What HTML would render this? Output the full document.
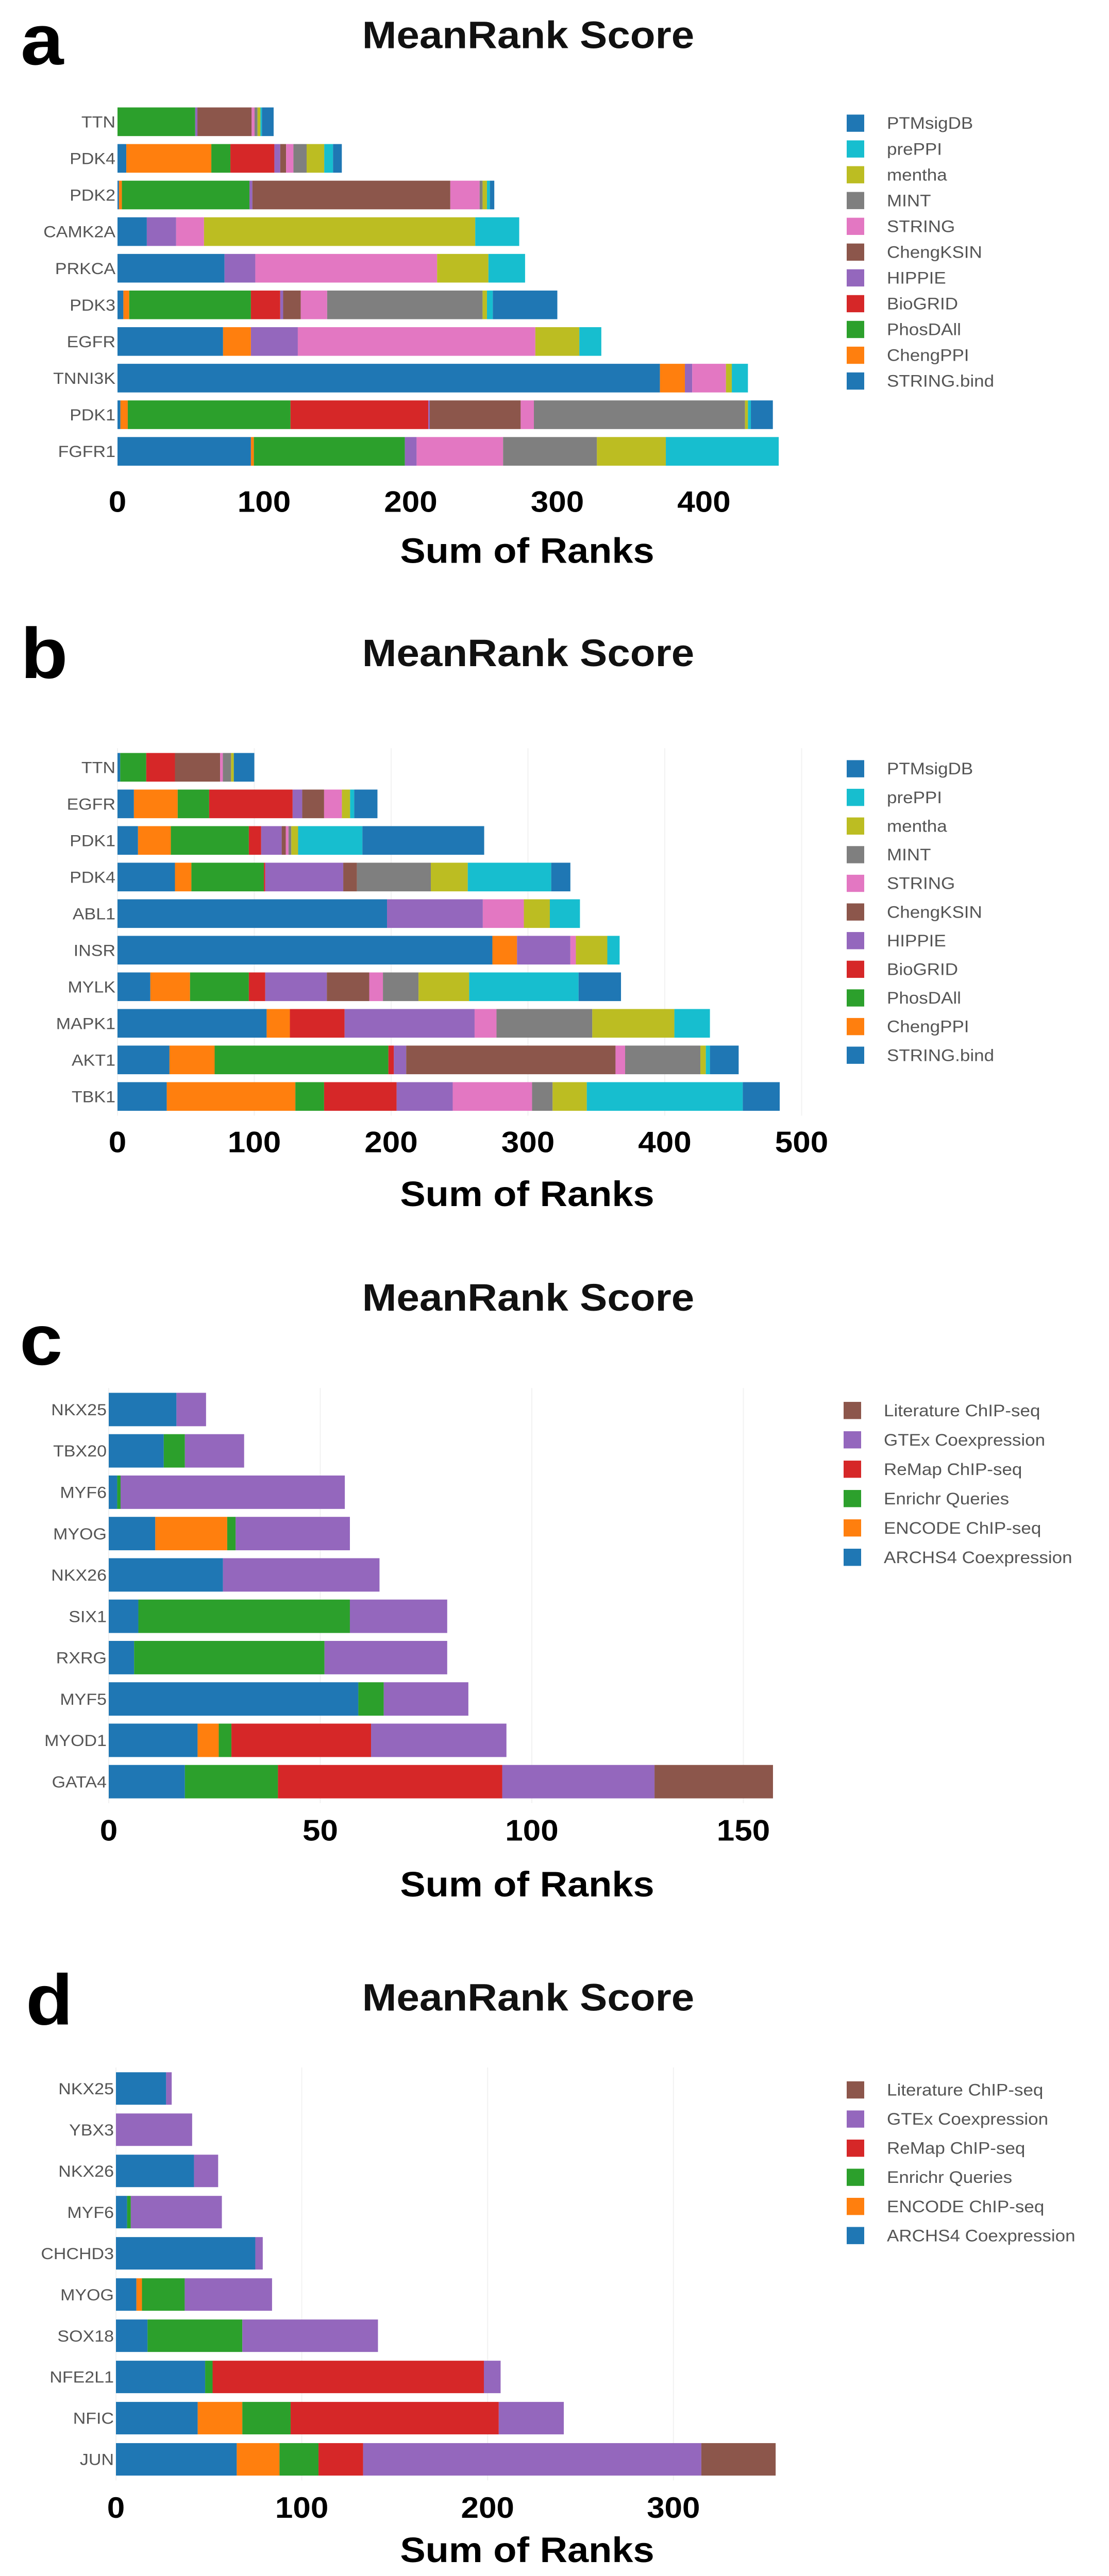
<!DOCTYPE html>
<html><head><meta charset="utf-8"><style>
html,body{margin:0;padding:0;background:#fff;width:100vw;height:100vh;overflow:hidden;}
svg{display:block;font-family:"Liberation Sans",sans-serif;width:100vw;height:100vh;}
</style></head><body>
<svg id="fig" viewBox="0 0 2152 5395" preserveAspectRatio="none" xmlns="http://www.w3.org/2000/svg"></svg>
<script>
// Panel a/b (kinase libraries)
const ppiSeries = ["STRING.bind","ChengPPI","PhosDAll","BioGRID","HIPPIE","ChengKSIN","STRING","MINT","mentha","prePPI","PTMsigDB"];
const ppiColors = ["#1f77b4","#ff7f0e","#2ca02c","#d62728","#9467bd","#8c564b","#e377c2","#7f7f7f","#bcbd22","#17becf","#1f77b4"];
const aCategories = ["TTN","PDK4","PDK2","CAMK2A","PRKCA","PDK3","EGFR","TNNI3K","PDK1","FGFR1"];
const aValues = [
 [0,0,53,0,1.5,37,2,2,2,1,8],
 [6,58,13,30,4,4,5,9,12,6,6],
 [1,2,87,0,2,135,20,2,3,2,3],
 [20,0,0,0,20,0,19,0,185,30,0],
 [73,0,0,0,21,0,124,0,35,25,0],
 [4,4,83,20,2,12,18,106,3,4,44],
 [72,19,0,0,32,0,162,0,30,15,0],
 [370,17,0,0,5,0,23,0,4,11,0],
 [2,5,111,94,1,62,9,144,2,2,15],
 [91,2,103,0,8,0,59,64,47,77,0]
];
const aTicks = [0,100,200,300,400];
const bCategories = ["TTN","EGFR","PDK1","PDK4","ABL1","INSR","MYLK","MAPK1","AKT1","TBK1"];
const bValues = [
 [2,0,19,21,0,33,2,6,2,0,15],
 [12,32,23,61,7,16,13,0,6,3,17],
 [15,24,57,9,15,3,2,2,5,47,89],
 [42,12,53,1,57,10,0,54,27,61,14],
 [197,0,0,0,70,0,30,0,19,22,0],
 [274,18,0,0,39,0,4,0,23,9,0],
 [24,29,43,12,45,31,10,26,37,80,31],
 [109,17,0,40,95,0,16,70,60,26,0],
 [38,33,127,4,9,153,7,55,4,3,21],
 [36,94,21,53,41,0,58,15,25,114,27]
];
const bTicks = [0,100,200,300,400,500];
// Panel c/d (TF libraries)
const tfSeries = ["ARCHS4 Coexpression","ENCODE ChIP-seq","Enrichr Queries","ReMap ChIP-seq","GTEx Coexpression","Literature ChIP-seq"];
const tfColors = ["#1f77b4","#ff7f0e","#2ca02c","#d62728","#9467bd","#8c564b"];
const cCategories = ["NKX25","TBX20","MYF6","MYOG","NKX26","SIX1","RXRG","MYF5","MYOD1","GATA4"];
const cValues = [
 [16,0,0,0,7,0],
 [13,0,5,0,14,0],
 [2,0,0.8,0,53,0],
 [11,17,2,0,27,0],
 [27,0,0,0,37,0],
 [7,0,50,0,23,0],
 [6,0,45,0,29,0],
 [59,0,6,0,20,0],
 [21,5,3,33,32,0],
 [18,0,22,53,36,28]
];
const cTicks = [0,50,100,150];
const dCategories = ["NKX25","YBX3","NKX26","MYF6","CHCHD3","MYOG","SOX18","NFE2L1","NFIC","JUN"];
const dValues = [
 [27,0,0,0,3,0],
 [0,0,0,0,41,0],
 [42,0,0,0,13,0],
 [6,0,2,0,49,0],
 [75,0,0,0,4,0],
 [11,3,23,0,47,0],
 [17,0,51,0,73,0],
 [48,0,4,146,9,0],
 [44,24,26,112,35,0],
 [65,23,21,24,182,40]
];
const dTicks = [0,100,200,300];

const NS="http://www.w3.org/2000/svg";
const svg=document.getElementById('fig');
function mk(tag,attrs,parent){const e=document.createElementNS(NS,tag);for(const k in attrs)e.setAttribute(k,attrs[k]);(parent||svg).appendChild(e);return e;}
function txt(str,attrs,parent){const e=mk('text',attrs,parent);e.textContent=str;return e;}

function panel(cfg){
  const g=mk('g',{});
  
  
  const xs=v=>cfg.x0+v*cfg.k;
  const lt=txt(cfg.letter,{x:cfg.letterX,y:cfg.letterY,'font-size':150,'font-weight':'bold',fill:'#000'},g);
  
  
  const tt=txt('MeanRank Score',{x:1025,y:cfg.titleY+28,'font-size':80,'font-weight':'bold','text-anchor':'middle',fill:'#111'},g);
  
  
  const n=cfg.cats.length;
  if(cfg.grid){
    cfg.ticks.forEach(t=>{const l=mk('line',{x1:xs(t),x2:xs(t),y1:cfg.top-10,y2:cfg.top+(n-1)*cfg.step+cfg.h+10,stroke:'#f2f2f2','stroke-width':2},g);
      
      });
  }
  cfg.cats.forEach((c,i)=>{
    const y=cfg.top+i*cfg.step;
    const lab=txt(c,{x:cfg.x0-4,y:y+cfg.h/2+12,'font-size':34,'text-anchor':'end',fill:'#555'},g);
    
    
    let acc=0;
    cfg.vals[i].forEach((v,j)=>{
      if(v<=0)return;
      const r=mk('rect',{x:xs(acc),y:y,width:v*cfg.k,height:cfg.h,fill:cfg.colors[j]},g);
      
      
      acc+=v;
    });
  });
  cfg.ticks.forEach(t=>{
    const tl=txt(String(t),{x:xs(t),y:cfg.tickY+22,'font-size':62,'font-weight':'bold','text-anchor':'middle',fill:'#000'},g);
    
    
  });
  const xt=txt('Sum of Ranks',{x:1023,y:cfg.axisY+26,'font-size':74,'font-weight':'bold','text-anchor':'middle',fill:'#000'},g);
  
  
  const lg=mk('g',{},g);
  
  
  const order=cfg.series.map((s,i)=>i).reverse();
  order.forEach((j,k)=>{
    const cy=cfg.legY+k*cfg.legStep;
    const sq=mk('rect',{x:cfg.legX,y:cy-18,width:34,height:36,fill:cfg.colors[j]},lg);
    
    
    const lt2=txt(cfg.series[j],{x:cfg.legX+78,y:cy+12,'font-size':35,fill:'#555'},lg);
    
    
  });
}
panel({letter:'a',letterX:40,letterY:135,titleY:73,cats:aCategories,vals:aValues,series:ppiSeries,colors:ppiColors,ticks:aTicks,
  x0:228,k:2.845,top:225,step:76.7,h:60,tickY:1050,axisY:1153,legX:1643,legY:258,legStep:54,grid:false});
panel({letter:'b',letterX:40,letterY:1420,titleY:1367,cats:bCategories,vals:bValues,series:ppiSeries,colors:ppiColors,ticks:bTicks,
  x0:228,k:2.655,top:1577,step:76.6,h:60,tickY:2391,axisY:2500,legX:1643,legY:1610,legStep:60,grid:true});
panel({letter:'c',letterX:38,letterY:2858,titleY:2717,cats:cCategories,vals:cValues,series:tfSeries,colors:tfColors,ticks:cTicks,
  x0:211,k:8.21,top:2917,step:86.6,h:70,tickY:3833,axisY:3946,legX:1637,legY:2954,legStep:61.5,grid:true});
panel({letter:'d',letterX:50,letterY:4240,titleY:4183,cats:dCategories,vals:dValues,series:tfSeries,colors:tfColors,ticks:dTicks,
  x0:225,k:3.606,top:4340,step:86.3,h:68,tickY:5251,axisY:5340,legX:1643,legY:4377,legStep:61,grid:true});
</script>
</body></html>
